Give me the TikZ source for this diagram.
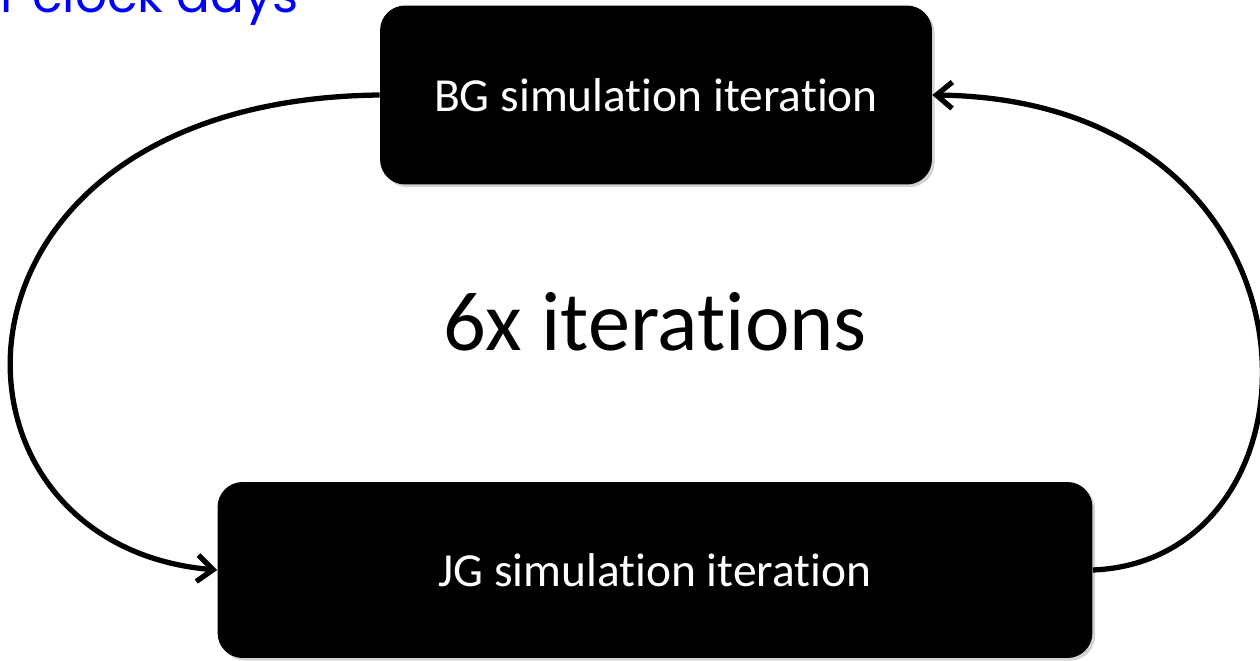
\documentclass[tikz,border=0pt]{standalone}
\usepackage{fontspec}
\setmainfont{Carlito}[Ligatures=NoCommon]
\newfontfamily\headfont{Poppins}
\usetikzlibrary{arrows.meta,shadows}

\begin{document}
\begin{tikzpicture}[x=0.02cm,y=-0.02cm,
    simbox/.style={fill=black,text=white,rounded corners=0.5cm,
      font=\fontsize{27}{32}\selectfont,
      drop shadow={opacity=0.35,shadow xshift=1.5pt,shadow yshift=-1.5pt}},
    loop/.style={line width=3pt,-{Straight Barb[length=9pt,width=15pt,line width=3pt]}}]
  \useasboundingbox (0,0) rectangle (1260,660);

  \node[text=blue,anchor=base west,inner sep=0pt,font=\headfont\fontsize{28.5}{32}\selectfont]
    (title) at (0,12) {r clock days};

  \node[simbox,minimum width=11.04cm,minimum height=3.58cm] (BG) at (656,95) {BG simulation iteration};
  \node[simbox,minimum width=17.5cm,minimum height=3.52cm] (JG) at (655,570) {JG simulation iteration};

  \node[font=\fontsize{48}{54}\selectfont] (count) at (655,322) {6x iterations};

  \draw[loop] (BG.west) .. controls (-80,100) and (-80,545) .. (JG.west);
  \draw[loop] (JG.east) .. controls (1340,560) and (1340,100) .. (BG.east);
\end{tikzpicture}
\end{document}
